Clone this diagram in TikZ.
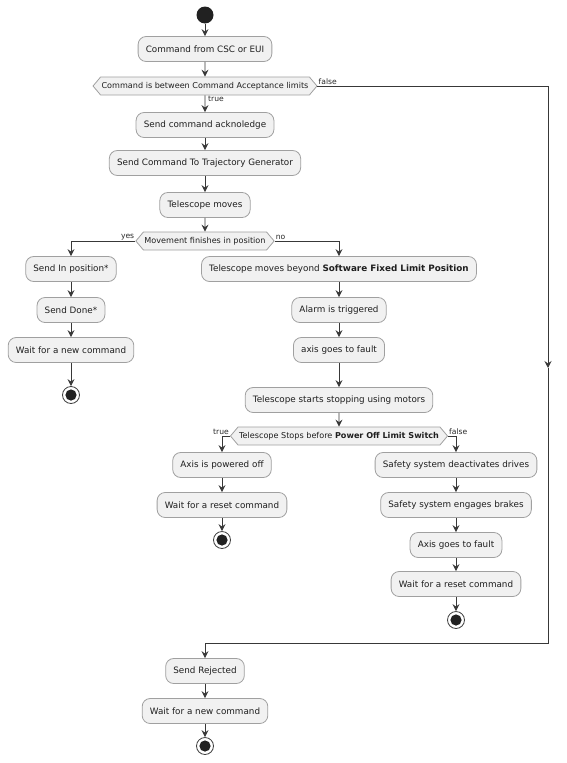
\documentclass[tikz,border=0pt]{standalone}
\usepackage{fontspec}
\setmainfont{DejaVu Sans}
\usetikzlibrary{arrows.meta,shapes.symbols}
\definecolor{actfill}{HTML}{F1F1F1}
\definecolor{actline}{HTML}{A0A0A0}
\definecolor{flow}{HTML}{383838}
\begin{document}
\begin{tikzpicture}[x=1pt,y=1pt,
  act/.style={rectangle,rounded corners=8pt,draw=actline,fill=actfill,line width=0.8pt,minimum height=25pt,inner xsep=7.7pt,text=black!88,font=\fontsize{8.8}{10}\selectfont},
  cond/.style={signal,signal to=west and east,signal pointer angle=100,draw=actline,fill=actfill,line width=0.8pt,minimum height=18pt,inner xsep=1pt,inner ysep=1pt,text=black!88,font=\fontsize{8.1}{9}\selectfont},
  go/.style={circle,fill=black!87,minimum size=17pt,inner sep=0pt},
  stop/.style={circle,draw=black!75,fill=white,line width=0.8pt,minimum size=17pt,inner sep=0pt,path picture={\fill[black!87] (path picture bounding box.center) circle (5.6pt);}},
  ar/.style={draw=flow,line width=0.9pt,-{Stealth[length=7pt,width=7pt,inset=2.5pt]}},
  lab/.style={font=\fontsize{7.6}{8}\selectfont,inner sep=1pt,text=black!85}]
  \useasboundingbox (0,0) rectangle (567,-763);
  % main column
  \node[go] (s0) at (205,-15) {};
  \node[act] (a1) at (205,-49) {Command from CSC or EUI};
  \node[cond] (c1) at (205,-86) {Command is between Command Acceptance limits};
  \node[act] (a2) at (205,-125) {Send command acknoledge};
  \node[act] (a3) at (205,-163) {Send Command To Trajectory Generator};
  \node[act] (a4) at (205,-205) {Telescope moves};
  \node[cond] (c2) at (205,-241) {Movement finishes in position};
  % in position
  \node[act] (b1) at (71,-269) {Send In position*};
  \node[act] (b2) at (71,-310) {Send Done*};
  \node[act] (b3) at (71,-350) {Wait for a new command};
  \node[stop] (e1) at (71,-395) {};
  % beyond the limit
  \node[act] (n1) at (339,-269) {Telescope moves beyond \textbf{Software Fixed Limit Position}};
  \node[act] (n2) at (339,-310) {Alarm is triggered};
  \node[act] (n3) at (339,-350) {axis goes to fault};
  \node[act] (n4) at (339,-400) {Telescope starts stopping using motors};
  \node[cond] (c3) at (339,-436) {Telescope Stops before \textbf{Power Off Limit Switch}};
  \node[act] (t1) at (222,-465) {Axis is powered off};
  \node[act] (t2) at (222,-505) {Wait for a reset command};
  \node[stop] (e2) at (222,-540) {};
  \node[act] (f1) at (456,-465) {Safety system deactivates drives};
  \node[act] (f2) at (456,-505) {Safety system engages brakes};
  \node[act] (f3) at (456,-545) {Axis goes to fault};
  \node[act] (f4) at (456,-584) {Wait for a reset command};
  \node[stop] (e3) at (456,-620) {};
  % rejected
  \node[act] (r1) at (205,-671) {Send Rejected};
  \node[act] (r2) at (205,-711) {Wait for a new command};
  \node[stop] (e4) at (205,-746) {};
  \coordinate (fk) at (548,-368); \coordinate (mg) at (205,-643);
  \draw[ar] (s0)--(a1); \draw[ar] (a1)--(c1); \draw[ar] (c1)--(a2);
  \draw[ar] (a2)--(a3); \draw[ar] (a3)--(a4); \draw[ar] (a4)--(c2);
  \draw[ar] (c1.east) -| (fk); \draw[ar] (fk) |- (mg) -- (r1);
  \draw[ar] (c2.west) -| (b1); \draw[ar] (c2.east) -| (n1);
  \draw[ar] (b1)--(b2); \draw[ar] (b2)--(b3); \draw[ar] (b3)--(e1);
  \draw[ar] (n1)--(n2); \draw[ar] (n2)--(n3); \draw[ar] (n3)--(n4); \draw[ar] (n4)--(c3);
  \draw[ar] (c3.west) -| (t1); \draw[ar] (c3.east) -| (f1);
  \draw[ar] (t1)--(t2); \draw[ar] (t2)--(e2);
  \draw[ar] (f1)--(f2); \draw[ar] (f2)--(f3); \draw[ar] (f3)--(f4); \draw[ar] (f4)--(e3);
  \draw[ar] (r1)--(r2); \draw[ar] (r2)--(e4);
  % branch labels
  \node[lab,anchor=south west] (l1) at (c1.east) {false};
  \node[lab,anchor=north west,xshift=2pt] (l2) at (c1.south) {true};
  \node[lab,anchor=south east] (l3) at (c2.west) {yes};
  \node[lab,anchor=south west] (l4) at (c2.east) {no};
  \node[lab,anchor=south east] (l5) at (c3.west) {true};
  \node[lab,anchor=south west] (l6) at (c3.east) {false};
\end{tikzpicture}
\end{document}
